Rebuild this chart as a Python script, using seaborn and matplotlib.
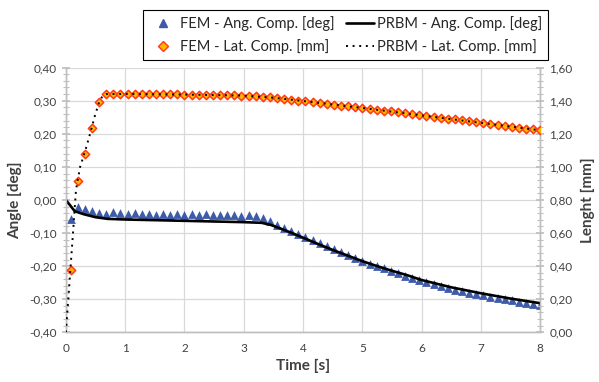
import numpy as np
import seaborn as sns
import matplotlib.pyplot as plt
from matplotlib.lines import Line2D
from matplotlib.ticker import FuncFormatter, MultipleLocator

# FEM samples
fem_time = [0.08, 0.20, 0.32, 0.44, 0.56, 0.68, 0.80, 0.92, 1.04, 1.16, 1.28, 1.40,
            1.52, 1.64, 1.76, 1.88, 2.00, 2.12, 2.24, 2.36, 2.48, 2.60, 2.72, 2.84,
            2.96, 3.08, 3.20, 3.32, 3.44, 3.56, 3.68, 3.80, 3.92, 4.04, 4.16, 4.28,
            4.40, 4.52, 4.64, 4.76, 4.88, 5.00, 5.12, 5.24, 5.36, 5.48, 5.60, 5.72,
            5.84, 5.96, 6.08, 6.20, 6.32, 6.44, 6.56, 6.68, 6.80, 6.92, 7.04, 7.16,
            7.28, 7.40, 7.52, 7.64, 7.76, 7.88, 8.00]
fem_angle = [-0.057, -0.021, -0.027, -0.032, -0.038, -0.042, -0.036, -0.039, -0.042,
             -0.040, -0.043, -0.041, -0.044, -0.042, -0.044, -0.042, -0.044, -0.043,
             -0.045, -0.043, -0.045, -0.044, -0.046, -0.045, -0.047, -0.046, -0.048,
             -0.053, -0.065, -0.076, -0.086, -0.095, -0.104, -0.113, -0.122, -0.131,
             -0.140, -0.149, -0.158, -0.166, -0.175, -0.184, -0.192, -0.200, -0.207,
             -0.215, -0.222, -0.229, -0.235, -0.243, -0.249, -0.255, -0.260, -0.266,
             -0.271, -0.275, -0.280, -0.284, -0.288, -0.292, -0.296, -0.300, -0.303,
             -0.307, -0.310, -0.314, -0.317]
fem_lateral = [0.375, 0.914, 1.076, 1.233, 1.394, 1.440, 1.441, 1.441, 1.440, 1.440,
               1.440, 1.439, 1.439, 1.439, 1.438, 1.438, 1.437, 1.437, 1.436, 1.436,
               1.435, 1.434, 1.433, 1.432, 1.431, 1.430, 1.428, 1.425, 1.420, 1.416,
               1.411, 1.406, 1.401, 1.396, 1.391, 1.386, 1.381, 1.376, 1.371, 1.366,
               1.361, 1.356, 1.351, 1.346, 1.340, 1.335, 1.330, 1.325, 1.319, 1.314,
               1.308, 1.303, 1.298, 1.292, 1.287, 1.281, 1.276, 1.270, 1.265, 1.259,
               1.254, 1.248, 1.243, 1.237, 1.232, 1.226, 1.221]

# PRBM model curves
prbm_ang_time = [0.0, 0.15, 0.30, 0.50, 0.70, 1.0, 1.5, 2.0, 2.5, 3.0, 3.30, 3.45, 3.60,
                 3.80, 4.0, 4.25, 4.50, 4.75, 5.0, 5.25, 5.50, 5.75, 6.0, 6.25, 6.50,
                 6.75, 7.0, 7.25, 7.50, 7.75, 8.0]
prbm_angle = [0.0, -0.034, -0.043, -0.052, -0.057, -0.059, -0.061, -0.063, -0.065,
              -0.067, -0.069, -0.075, -0.085, -0.099, -0.114, -0.133, -0.151, -0.168,
              -0.185, -0.200, -0.214, -0.227, -0.242, -0.253, -0.264, -0.273, -0.282,
              -0.290, -0.298, -0.305, -0.312]
prbm_lat_time = [0.0, 0.04, 0.08, 0.12, 0.17, 0.24, 0.32, 0.40, 0.49, 0.56, 0.62, 0.68,
                 1.0, 2.0, 3.0, 3.5, 4.0, 5.0, 6.0, 7.0, 8.0]
prbm_lateral = [0.0, 0.20, 0.40, 0.60, 0.86, 1.00, 1.09, 1.19, 1.31, 1.39, 1.43, 1.44,
                1.441, 1.437, 1.431, 1.418, 1.398, 1.356, 1.311, 1.266, 1.221]

sns.set_theme(style='white')
plt.rcParams['font.family'] = ['Lato', 'DejaVu Sans']

blue = '#3D5BA9'
orange_fill = '#FFB400'
orange_edge = '#FF3A1A'
grid_c = '#D9D9D9'
axis_c = '#BFBFBF'
text_c = '#404040'

fig, ax = plt.subplots(figsize=(5.99, 3.82), dpi=100)
fig.subplots_adjust(left=0.110, right=0.902, top=0.823, bottom=0.130)
ax2 = ax.twinx()

sns.scatterplot(x=fem_time, y=fem_angle, ax=ax, marker='^', s=40, color=blue,
                edgecolor=blue, linewidth=0, zorder=3)
sns.lineplot(x=prbm_ang_time, y=prbm_angle, ax=ax, color='black', linewidth=1.9,
             errorbar=None, zorder=4)

sns.scatterplot(x=fem_time, y=fem_lateral, ax=ax2, marker='D', s=18, color=orange_fill,
                edgecolor=orange_edge, linewidth=1.1, zorder=3)
sns.lineplot(x=prbm_lat_time, y=prbm_lateral, ax=ax2, color='black', linewidth=1.4,
             linestyle=(0, (1, 2.4)), errorbar=None, zorder=4)

ax.set_xlim(0, 8)
ax.set_ylim(-0.4, 0.4)
ax2.set_ylim(0, 1.6)
ax.set_xticks(range(0, 9))
ax.yaxis.set_major_locator(MultipleLocator(0.1))
ax.yaxis.set_minor_locator(MultipleLocator(0.02))
ax2.yaxis.set_major_locator(MultipleLocator(0.2))
ax2.yaxis.set_minor_locator(MultipleLocator(0.04))

comma = FuncFormatter(lambda v, p: f'{v:.2f}'.replace('.', ',').replace('-0,00', '0,00'))
ax.yaxis.set_major_formatter(comma)
ax2.yaxis.set_major_formatter(comma)

ax.grid(True, which='major', color=grid_c, linewidth=0.9)
ax.set_axisbelow(True)

for a in (ax, ax2):
    for s in a.spines.values():
        s.set_color(axis_c)
        s.set_linewidth(1.0)
    a.spines['top'].set_visible(False)
    a.tick_params(labelsize=8.5, colors=text_c)
ax.tick_params(axis='y', which='major', direction='inout', length=6, color=axis_c, left=True)
ax.tick_params(axis='y', which='minor', direction='inout', length=4, width=0.8,
               color=axis_c, left=True)
ax.tick_params(axis='x', length=0, pad=8)
ax2.tick_params(axis='y', which='major', direction='inout', length=6, color=axis_c, right=True)
ax2.tick_params(axis='y', which='minor', direction='inout', length=4, width=0.8,
                color=axis_c, right=True)

ax.set_xlabel('Time [s]', fontsize=11, fontweight='bold', color=text_c, labelpad=3)
ax.set_ylabel('Angle [deg]', fontsize=11, fontweight='bold', color=text_c, labelpad=5)
ax2.set_ylabel('Lenght [mm]', fontsize=11, fontweight='bold', color=text_c, labelpad=6)

handles = [
    Line2D([], [], marker='^', linestyle='none', color=blue, markersize=6),
    Line2D([], [], marker='D', linestyle='none', markerfacecolor=orange_fill,
           markeredgecolor=orange_edge, markersize=5),
    Line2D([], [], color='black', linewidth=1.9),
    Line2D([], [], color='black', linewidth=1.4, linestyle=(0, (1, 2.4))),
]
labels = ['FEM - Ang. Comp. [deg]', 'FEM - Lat. Comp. [mm]',
          'PRBM - Ang. Comp. [deg]', 'PRBM - Lat. Comp. [mm]']
leg = fig.legend(handles, labels, ncol=2, loc='upper center', bbox_to_anchor=(0.577, 0.993),
                 fontsize=10.5, frameon=True, fancybox=False, edgecolor='black',
                 framealpha=1, handlelength=1.9, handletextpad=0.2, columnspacing=0.8,
                 labelspacing=0.55, borderpad=0.4)
leg.get_frame().set_linewidth(0.8)

plt.savefig('out.png', dpi=100)
